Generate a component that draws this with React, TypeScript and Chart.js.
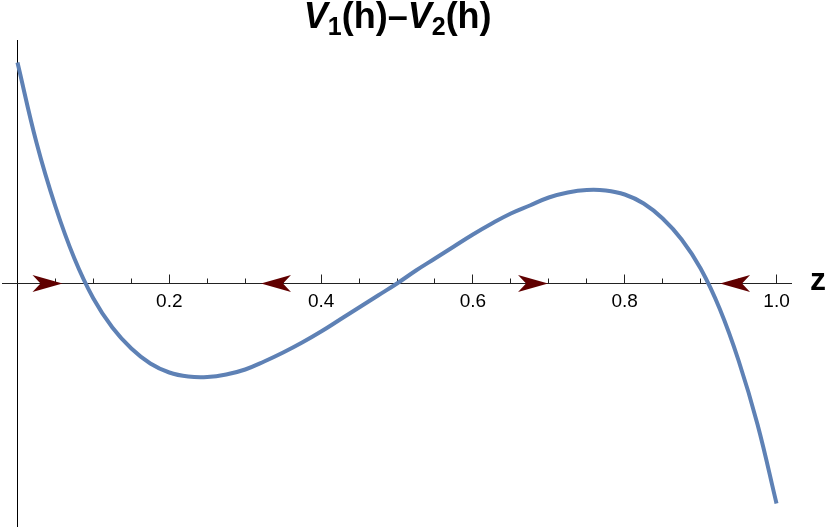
import React, { useEffect, useRef } from "react";
import { Chart, registerables } from "chart.js";

Chart.register(...registerables);

// Sample positions along z and the read-off curve values (arbitrary vertical units)
const zValues = [
  0, 0.025, 0.05, 0.075, 0.1, 0.125, 0.15, 0.175, 0.2, 0.225, 0.25, 0.275, 0.3, 0.325, 0.35, 0.375, 0.4,
  0.425, 0.45, 0.475, 0.5, 0.525, 0.55, 0.575, 0.6, 0.625, 0.65, 0.675, 0.7, 0.725, 0.75, 0.775, 0.8,
  0.825, 0.85, 0.875, 0.9, 0.925, 0.95, 0.975, 1.0,
];
const vValues = [
  2.21, 1.41, 0.77, 0.25, -0.15, -0.44, -0.65, -0.8, -0.89, -0.93, -0.935, -0.91, -0.86, -0.78, -0.69,
  -0.59, -0.48, -0.36, -0.24, -0.12, 0, 0.13, 0.25, 0.37, 0.49, 0.6, 0.7, 0.78, 0.86, 0.91, 0.935, 0.93,
  0.89, 0.8, 0.65, 0.44, 0.15, -0.25, -0.77, -1.41, -2.2,
];

// Axis ticks
const majorTicks = [0.2, 0.4, 0.6, 0.8, 1.0];
const majorLabels = ["0.2", "0.4", "0.6", "0.8", "1.0"];
const minorTicks = [0.05, 0.1, 0.15, 0.25, 0.3, 0.35, 0.45, 0.5, 0.55, 0.65, 0.7, 0.75, 0.85, 0.9, 0.95];

// Flow arrows on the z axis: tip position and direction (+1 right, -1 left)
const arrowTips = [0.0593, 0.3208, 0.699, 0.9256];
const arrowDirs = [1, -1, 1, -1];

const titleParts = [
  { text: "V", style: "italic bold", sub: false },
  { text: "1", style: "bold", sub: true },
  { text: "(h)\u2013", style: "bold", sub: false },
  { text: "V", style: "italic bold", sub: false },
  { text: "2", style: "bold", sub: true },
  { text: "(h)", style: "bold", sub: false },
];

const FONT = "'Liberation Sans', Arial, Helvetica, sans-serif";

const decorPlugin = {
  id: "decor",
  beforeDatasetsDraw(chart: any) {
    const ctx = chart.ctx;
    const xs = chart.scales.x;
    const ys = chart.scales.y;
    const area = chart.chartArea;
    const y0 = Math.round(ys.getPixelForValue(0) - 0.5) + 0.5;
    const x0 = Math.round(xs.getPixelForValue(0) - 0.5) + 0.5;
    ctx.save();
    ctx.strokeStyle = "#000";
    ctx.lineWidth = 1;
    // vertical axis
    ctx.beginPath();
    ctx.moveTo(x0, area.top);
    ctx.lineTo(x0, area.bottom);
    ctx.stroke();
    // horizontal axis
    ctx.strokeStyle = "#222";
    ctx.beginPath();
    ctx.moveTo(area.left, y0);
    ctx.lineTo(area.right, y0);
    ctx.stroke();
    // ticks (pointing up)
    ctx.beginPath();
    majorTicks.forEach((t) => {
      const px = Math.round(xs.getPixelForValue(t) - 0.5) + 0.5;
      ctx.moveTo(px, y0);
      ctx.lineTo(px, y0 - 9);
    });
    minorTicks.forEach((t) => {
      const px = Math.round(xs.getPixelForValue(t) - 0.5) + 0.5;
      ctx.moveTo(px, y0);
      ctx.lineTo(px, y0 - 5);
    });
    ctx.stroke();
    // tick labels
    ctx.fillStyle = "#000";
    ctx.font = `19px ${FONT}`;
    ctx.textAlign = "center";
    ctx.textBaseline = "alphabetic";
    majorTicks.forEach((t, i) => {
      ctx.fillText(majorLabels[i], xs.getPixelForValue(t), y0 + 23.5);
    });
    // axis label z
    ctx.font = `bold 32px ${FONT}`;
    ctx.textAlign = "left";
    ctx.fillText("z", 810, y0 + 6.5);
    ctx.restore();
  },
  afterDatasetsDraw(chart: any) {
    const ctx = chart.ctx;
    const xs = chart.scales.x;
    const ys = chart.scales.y;
    const y0 = ys.getPixelForValue(0);
    ctx.save();
    ctx.fillStyle = "#600000";
    const L = 30;
    const h = 8.5;
    const notch = 22;
    arrowTips.forEach((t, i) => {
      const d = arrowDirs[i];
      const tx = xs.getPixelForValue(t);
      ctx.beginPath();
      ctx.moveTo(tx, y0);
      ctx.lineTo(tx - d * L, y0 - h);
      ctx.lineTo(tx - d * notch, y0);
      ctx.lineTo(tx - d * L, y0 + h);
      ctx.closePath();
      ctx.fill();
    });
    // title
    ctx.fillStyle = "#000";
    ctx.textBaseline = "alphabetic";
    ctx.textAlign = "left";
    const big = 36;
    const small = 25;
    let total = 0;
    const widths = titleParts.map((p) => {
      ctx.font = `${p.style} ${p.sub ? small : big}px ${FONT}`;
      const w = ctx.measureText(p.text).width;
      total += w;
      return w;
    });
    let x = 397.7 - total / 2;
    const base = 28;
    titleParts.forEach((p, i) => {
      ctx.font = `${p.style} ${p.sub ? small : big}px ${FONT}`;
      ctx.fillText(p.text, x, p.sub ? base + 7 : base);
      x += widths[i];
    });
    ctx.restore();
  },
};

export default function App() {
  const ref = useRef<HTMLCanvasElement | null>(null);
  useEffect(() => {
    if (!ref.current) return;
    const points = zValues.map((z, i) => ({ x: z, y: vValues[i] }));
    const chart = new Chart(ref.current, {
      type: "line",
      data: {
        datasets: [
          {
            data: points,
            borderColor: "#5E81B5",
            borderWidth: 4,
            pointRadius: 0,
            fill: false,
            tension: 0.4,
            borderJoinStyle: "round",
          },
        ],
      },
      options: {
        responsive: false,
        devicePixelRatio: 1,
        animation: false,
        layout: { padding: { left: 2, right: 38, top: 40, bottom: 4 } },
        scales: {
          x: { type: "linear", min: -0.0204, max: 1.0204, display: false },
          y: { type: "linear", min: -2.435, max: 2.435, display: false },
        },
        plugins: { legend: { display: false }, tooltip: { enabled: false }, title: { display: false } },
      },
      plugins: [decorPlugin],
    } as any);
    return () => chart.destroy();
  }, []);
  return (
    <div style={{ position: "fixed", left: 0, top: 0, width: 830, height: 531, background: "#fff" }}>
      <canvas ref={ref} width={830} height={531} style={{ display: "block", width: 830, height: 531 }} />
    </div>
  );
}
